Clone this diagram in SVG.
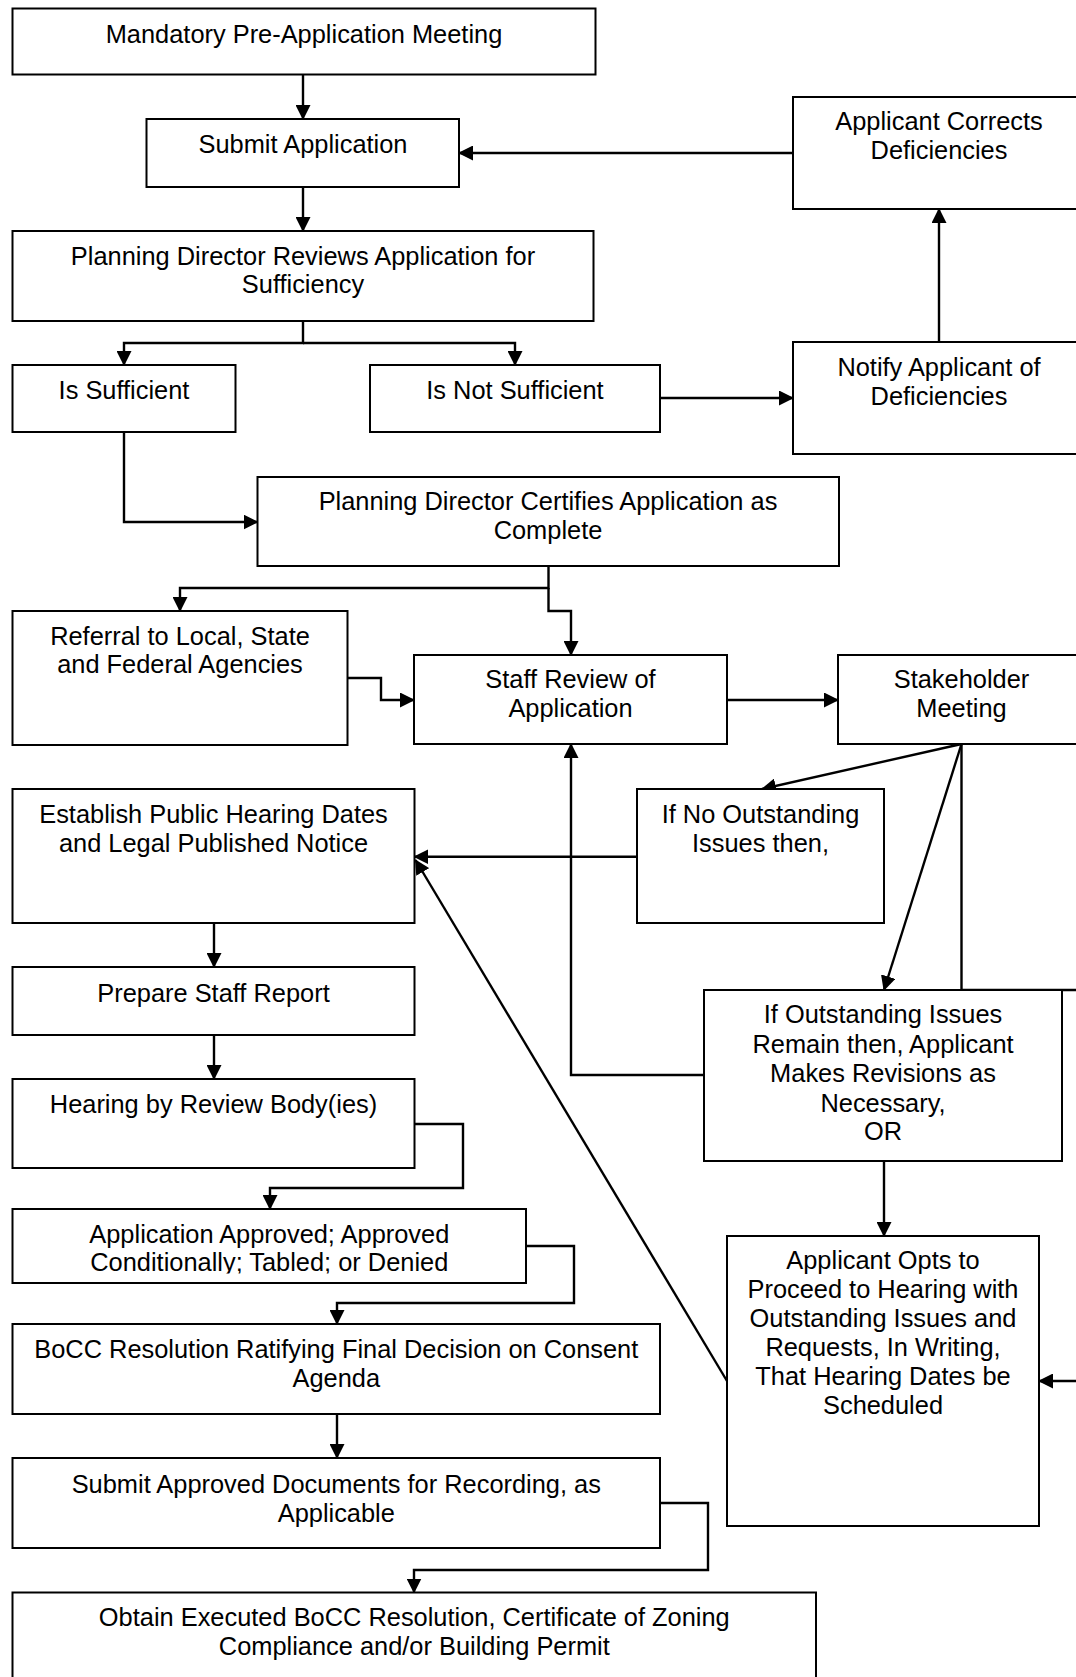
<svg xmlns="http://www.w3.org/2000/svg" width="1076" height="1677" viewBox="0 0 1076 1677">
<defs>
<style>
.box{fill:#fff;stroke:#000;stroke-width:2}
.t{font-family:"Liberation Sans",Arial,sans-serif;font-size:25.4px;fill:#000;text-anchor:middle}
.c{fill:none;stroke:#000;stroke-width:2.4;stroke-linejoin:miter}
.a{marker-end:url(#ah)}
</style>
<marker id="ah" markerUnits="userSpaceOnUse" viewBox="0 0 15 15" markerWidth="15" markerHeight="15" refX="14" refY="7.5" orient="auto">
<path d="M0,0 L15,7.5 L0,15 Z" fill="#000"/>
</marker>
<clipPath id="clipApproved"><rect x="0" y="1200" width="600" height="73.5"/></clipPath>
</defs>
<rect width="1076" height="1677" fill="#fff"/>

<g id="connectors">
<path class="c a" d="M303,75 V119"/>
<path class="c a" d="M303,187 V231"/>
<path class="c a" d="M793,153 H459"/>
<path class="c a" d="M939,342 V209"/>
<path class="c a" d="M660,398 H793"/>
<path class="c a" d="M303,321 V343 H124 V365"/>
<path class="c a" d="M303,343 H515 V365"/>
<path class="c a" d="M124,432 V522 H257.5"/>
<path class="c a" d="M548.5,566 V588 H180 V611"/>
<path class="c a" d="M548.5,588 V611 H571 V655"/>
<path class="c a" d="M347.5,678 H381 V700 H414"/>
<path class="c a" d="M727,700 H838"/>
<path class="c a" d="M961.5,744 L762,789"/>
<path class="c a" d="M961.5,744 L884,990"/>
<path class="c" d="M961.5,744 V990 H1080"/>
<path class="c a" d="M1080,1381 H1039"/>
<path class="c a" d="M637,856.7 H414.4"/>
<path class="c a" d="M704,1075 H571 V744"/>
<path class="c a" d="M884,1161 V1236"/>
<path class="c a" d="M727,1381 L415.5,860"/>
<path class="c a" d="M214,923 V967"/>
<path class="c a" d="M214,1035 V1079"/>
<path class="c a" d="M414.4,1124 H463 V1188 H270 V1209"/>
<path class="c a" d="M526,1246 H574 V1303 H337 V1324"/>
<path class="c a" d="M337,1414 V1458"/>
<path class="c a" d="M660,1503 H708 V1570 H414 V1592.5"/>
</g>

<g id="n-mandatory"><rect class="box" x="12.5" y="8.5" width="583" height="66"/><text class="t" x="304" y="43">Mandatory Pre-Application Meeting</text></g>
<g id="n-submit"><rect class="box" x="146.5" y="119" width="312.5" height="68"/><text class="t" x="303" y="153">Submit Application</text></g>
<g id="n-reviews"><rect class="box" x="12.5" y="231" width="581" height="90"/><text class="t" x="303" y="265">Planning Director Reviews Application for</text><text class="t" x="303" y="293">Sufficiency</text></g>
<g id="n-corrects"><rect class="box" x="793" y="97" width="292" height="112"/><text class="t" x="939" y="130">Applicant Corrects</text><text class="t" x="939" y="159">Deficiencies</text></g>
<g id="n-notify"><rect class="box" x="793" y="342" width="292" height="112"/><text class="t" x="939" y="376">Notify Applicant of</text><text class="t" x="939" y="405">Deficiencies</text></g>
<g id="n-sufficient"><rect class="box" x="12.5" y="365" width="223" height="67"/><text class="t" x="124" y="399">Is Sufficient</text></g>
<g id="n-notsufficient"><rect class="box" x="370" y="365" width="290" height="67"/><text class="t" x="515" y="399">Is Not Sufficient</text></g>
<g id="n-certifies"><rect class="box" x="257.5" y="477" width="581.5" height="89"/><text class="t" x="548" y="510">Planning Director Certifies Application as</text><text class="t" x="548" y="539">Complete</text></g>
<g id="n-referral"><rect class="box" x="12.5" y="611" width="335" height="134"/><text class="t" x="180" y="645">Referral to Local, State</text><text class="t" x="180" y="673">and Federal Agencies</text></g>
<g id="n-staff"><rect class="box" x="414" y="655" width="313" height="89"/><text class="t" x="570.5" y="688">Staff Review of</text><text class="t" x="570.5" y="717">Application</text></g>
<g id="n-stakeholder"><rect class="box" x="838" y="655" width="247" height="89"/><text class="t" x="961.5" y="688">Stakeholder</text><text class="t" x="961.5" y="717">Meeting</text></g>
<g id="n-ifno"><rect class="box" x="637" y="789" width="247" height="134"/><text class="t" x="760.5" y="823">If No Outstanding</text><text class="t" x="760.5" y="852">Issues then,</text></g>
<g id="n-establish"><rect class="box" x="12.5" y="789" width="402" height="134"/><text class="t" x="213.5" y="823">Establish Public Hearing Dates</text><text class="t" x="213.5" y="852">and Legal Published Notice</text></g>
<g id="n-ifout"><rect class="box" x="704" y="990" width="358" height="171"/><text class="t" x="883" y="1023">If Outstanding Issues</text><text class="t" x="883" y="1053">Remain then, Applicant</text><text class="t" x="883" y="1082">Makes Revisions as</text><text class="t" x="883" y="1112">Necessary,</text><text class="t" x="883" y="1140">OR</text></g>
<g id="n-prepare"><rect class="box" x="12.5" y="967" width="402" height="68"/><text class="t" x="213.5" y="1002">Prepare Staff Report</text></g>
<g id="n-hearing"><rect class="box" x="12.5" y="1079" width="402" height="89"/><text class="t" x="213.5" y="1113">Hearing by Review Body(ies)</text></g>
<g id="n-approved"><rect class="box" x="12.5" y="1209" width="513.5" height="74"/><g clip-path="url(#clipApproved)"><text class="t" x="269.3" y="1243">Application Approved; Approved</text><text class="t" x="269.3" y="1271">Conditionally; Tabled; or Denied</text></g></g>
<g id="n-bocc"><rect class="box" x="12.5" y="1324" width="647.5" height="90"/><text class="t" x="336.3" y="1358">BoCC Resolution Ratifying Final Decision on Consent</text><text class="t" x="336.3" y="1387">Agenda</text></g>
<g id="n-opts"><rect class="box" x="727" y="1236" width="312" height="290"/><text class="t" x="883" y="1269">Applicant Opts to</text><text class="t" x="883" y="1298">Proceed to Hearing with</text><text class="t" x="883" y="1327">Outstanding Issues and</text><text class="t" x="883" y="1356">Requests, In Writing,</text><text class="t" x="883" y="1385">That Hearing Dates be</text><text class="t" x="883" y="1414">Scheduled</text></g>
<g id="n-submitdocs"><rect class="box" x="12.5" y="1458" width="647.5" height="90"/><text class="t" x="336.3" y="1493">Submit Approved Documents for Recording, as</text><text class="t" x="336.3" y="1522">Applicable</text></g>
<g id="n-obtain"><rect class="box" x="12.5" y="1592.5" width="803.5" height="100"/><text class="t" x="414.3" y="1626">Obtain Executed BoCC Resolution, Certificate of Zoning</text><text class="t" x="414.3" y="1655">Compliance and/or Building Permit</text></g>
</svg>
